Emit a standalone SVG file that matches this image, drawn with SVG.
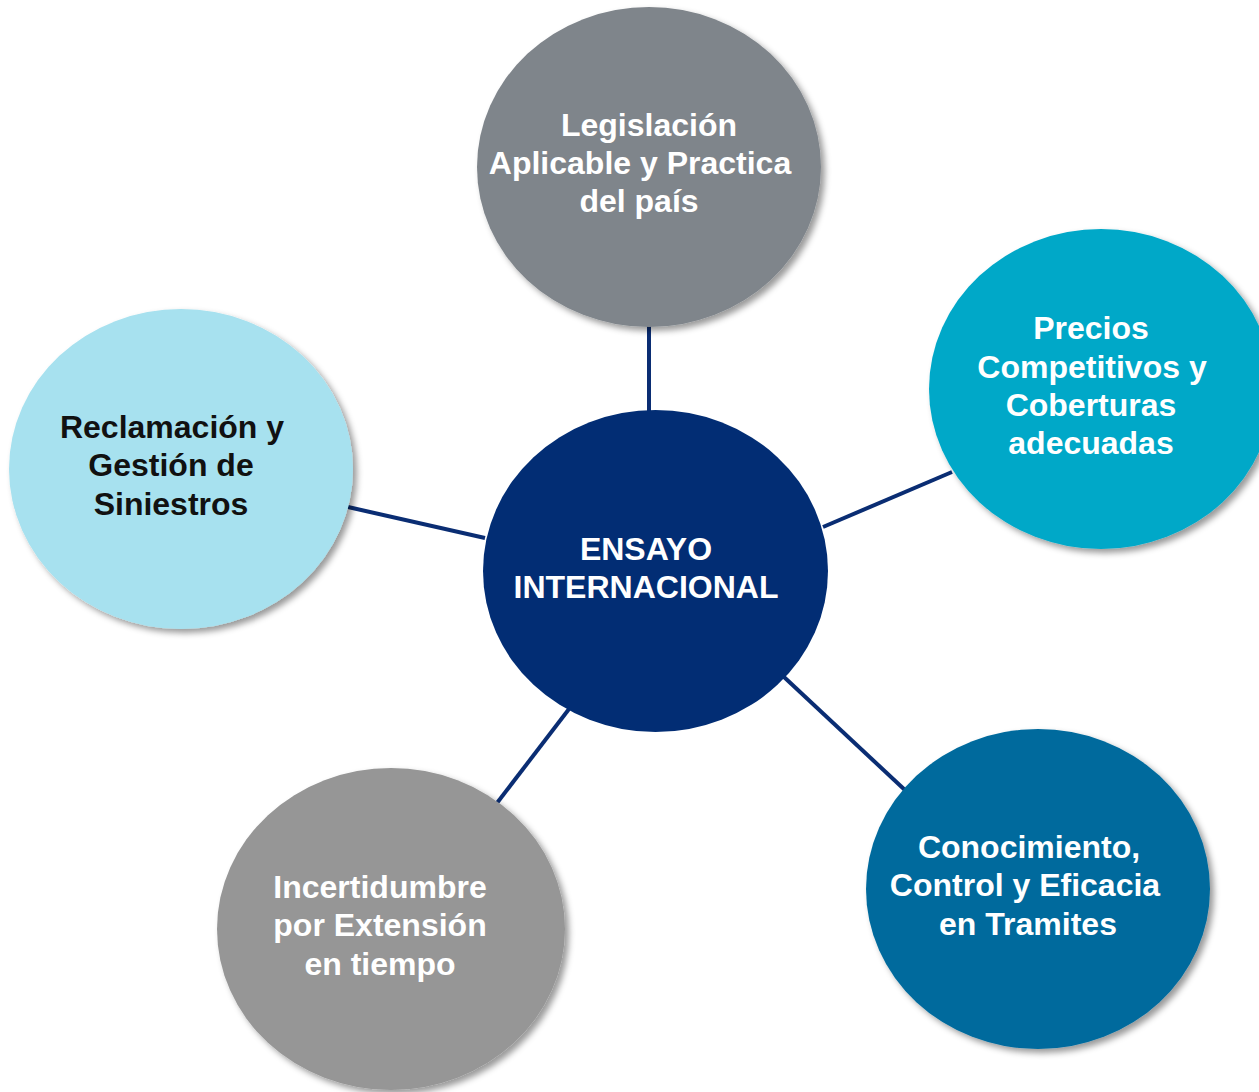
<svg xmlns="http://www.w3.org/2000/svg" width="1259" height="1092" viewBox="0 0 1259 1092">
<style>
.conn{stroke:#0a2d73;stroke-width:4;fill:none}
.t{font-family:"Liberation Sans",Arial,sans-serif;font-weight:bold;font-size:32px;text-anchor:middle;fill:#ffffff}
.dark{fill:#111111}
.sh{filter:url(#shadow)}
</style>
<defs>
<filter id="shadow" x="-10%" y="-10%" width="125%" height="125%">
<feDropShadow dx="4" dy="4" stdDeviation="3" flood-color="#000" flood-opacity="0.4"/>
</filter>
</defs>
<rect width="1259" height="1092" fill="#ffffff"/>
<g id="connectors">
<line class="conn" x1="649" y1="326" x2="649" y2="412"/>
<line class="conn" x1="823" y1="527" x2="952" y2="472"/>
<line class="conn" x1="348" y1="507" x2="485" y2="538"/>
<line class="conn" x1="784" y1="677" x2="906" y2="791"/>
<line class="conn" x1="569" y1="709" x2="497" y2="803"/>
</g>
<g id="node-legislacion">
<ellipse class="sh" cx="649" cy="167" rx="172" ry="160" fill="#7f858b"/>
<text class="t" x="649" y="136">Legislación</text>
<text class="t" x="640" y="174">Aplicable y Practica</text>
<text class="t" x="639" y="212">del país</text>
</g>
<g id="node-precios">
<ellipse class="sh" cx="1101" cy="389" rx="172" ry="160" fill="#00a8c8"/>
<text class="t" x="1091" y="339">Precios</text>
<text class="t" x="1092" y="378">Competitivos y</text>
<text class="t" x="1091" y="416">Coberturas</text>
<text class="t" x="1091" y="454">adecuadas</text>
</g>
<g id="node-reclamacion">
<ellipse class="sh" cx="181" cy="469" rx="172" ry="160" fill="#a7e1ef"/>
<text class="t dark" x="172" y="438">Reclamación y</text>
<text class="t dark" x="171" y="476">Gestión de</text>
<text class="t dark" x="171" y="515">Siniestros</text>
</g>
<g id="node-conocimiento">
<ellipse class="sh" cx="1038" cy="889" rx="172" ry="160" fill="#016b9d"/>
<text class="t" x="1029" y="858">Conocimiento,</text>
<text class="t" x="1025" y="896">Control y Eficacia</text>
<text class="t" x="1028" y="935">en Tramites</text>
</g>
<g id="node-incertidumbre">
<ellipse class="sh" cx="391" cy="929" rx="174" ry="161" fill="#969696"/>
<text class="t" x="380" y="898">Incertidumbre</text>
<text class="t" x="380" y="936">por Extensión</text>
<text class="t" x="380" y="975">en tiempo</text>
</g>
<g id="node-center">
<ellipse cx="655.5" cy="571" rx="172.5" ry="161" fill="#022d74"/>
<text class="t" x="646" y="560">ENSAYO</text>
<text class="t" x="646" y="598">INTERNACIONAL</text>
</g>
</svg>
